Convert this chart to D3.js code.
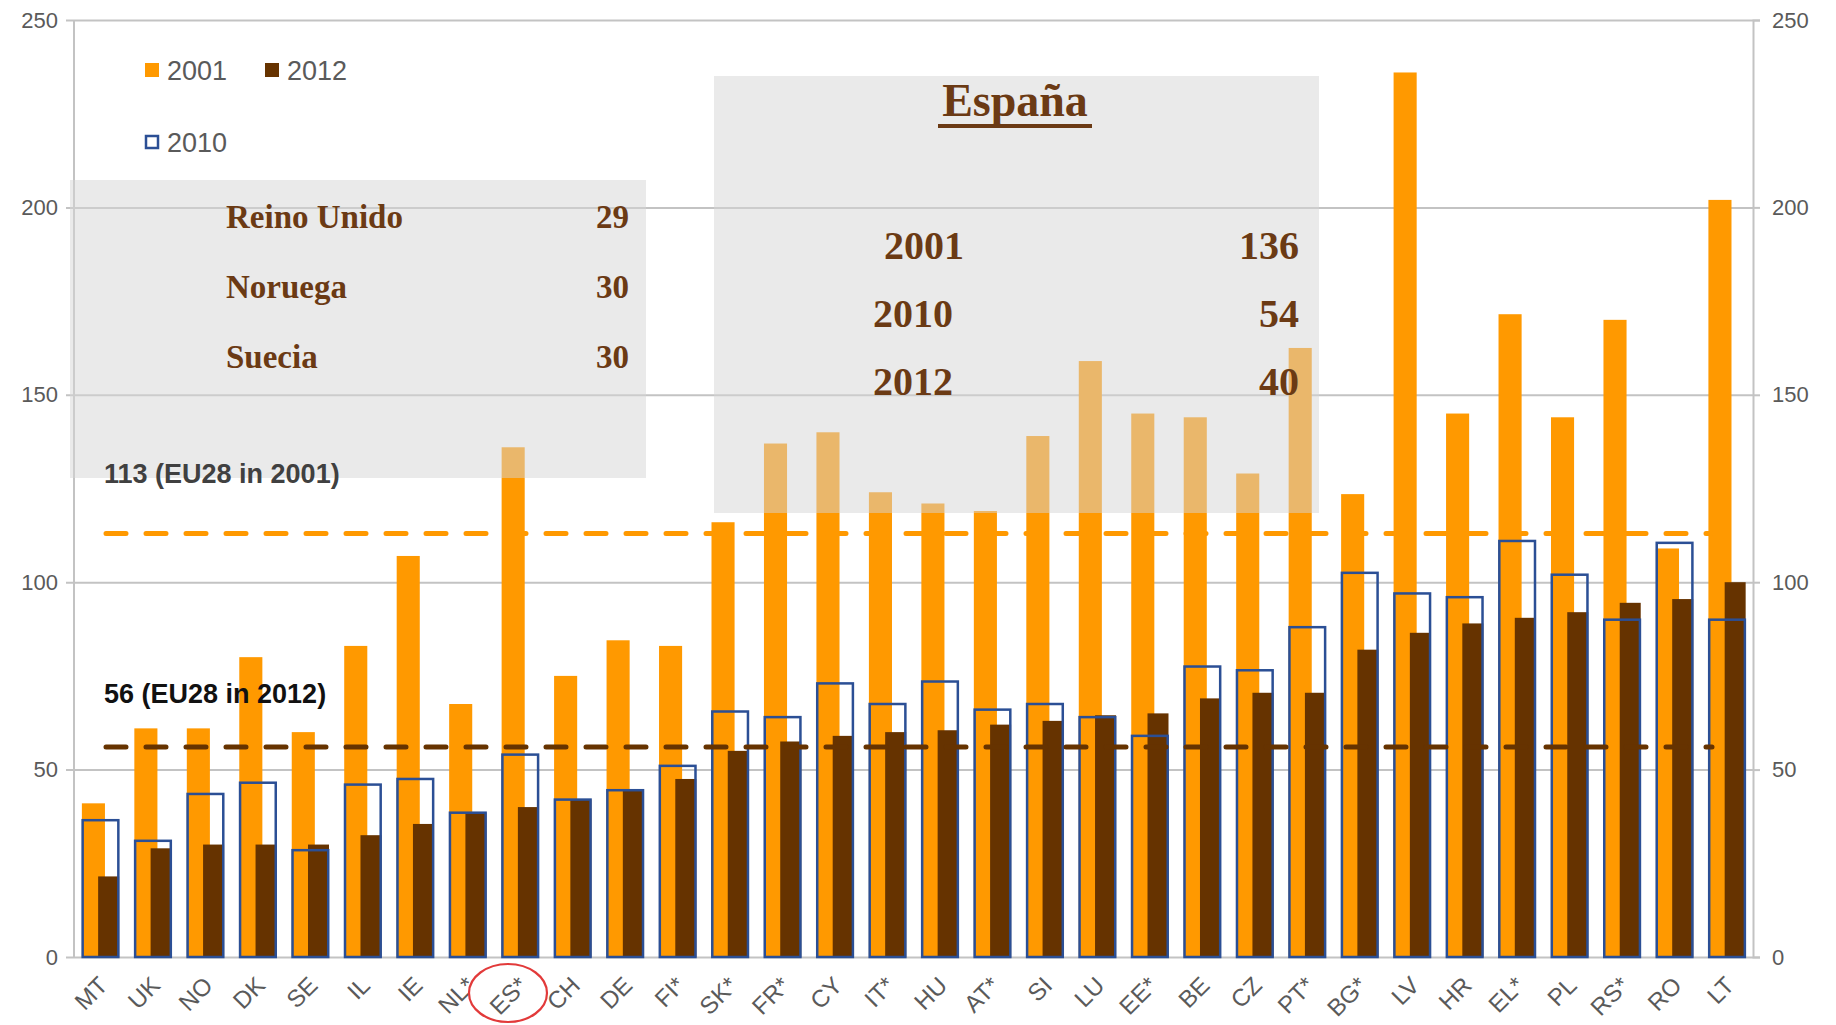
<!DOCTYPE html>
<html>
<head>
<meta charset="utf-8">
<script src="https://cdn.jsdelivr.net/npm/d3@7"></script>
<style>
    html, body { margin: 0; padding: 0; background: #fff; }
    #chart-container { width: 1836px; height: 1025px; }
</style>
</head>
<body>
<div id="chart-container"></div>
<script>
var countries = ['MT','UK','NO','DK','SE','IL','IE','NL*','ES*','CH','DE','FI*','SK*','FR*','CY','IT*',
                 'HU','AT*','SI','LU','EE*','BE','CZ','PT*','BG*','LV','HR','EL*','PL','RS*','RO','LT'];

var values2001 = [41, 61, 61, 80, 60, 83, 107, 67.5, 136, 75, 84.5, 83, 116, 137, 140, 124,
                  121, 119, 139, 159, 145, 144, 129, 162.5, 123.5, 236, 145, 171.5, 144, 170, 109, 202];
var values2010 = [36.5, 31, 43.5, 46.5, 28.5, 46, 47.5, 38.5, 54, 42, 44.5, 51, 65.5, 64, 73, 67.5,
                  73.5, 66, 67.5, 64, 59, 77.5, 76.5, 88, 102.5, 97, 96, 111, 102, 90, 110.5, 90];
var values2012 = [21.5, 29, 30, 30, 30, 32.5, 35.5, 38.5, 40, 42, 44.5, 47.5, 55, 57.5, 59, 60,
                  60.5, 62, 63, 64.5, 65, 69, 70.5, 70.5, 82, 86.5, 89, 90.5, 92, 94.5, 95.5, 100];

var yTicks = [0, 50, 100, 150, 200, 250];
var eu28 = [
    { value: 113, label: '113 (EU28 in 2001)', color: '#ff9900', text: '#404040', shift: -60 },
    { value: 56,  label: '56 (EU28 in 2012)',  color: '#663300', text: '#111111', shift: -54 }
];
var lowest = [['Reino Unido', 29], ['Noruega', 30], ['Suecia', 30]];
var spain = [['2001', 136], ['2010', 54], ['2012', 40]];

(function(){
    var w = 1836, h = 1025,
        left = 74, right = 1753, top = 20, bottom = 957,
        orange = '#ff9900', brown = '#663300', blue = '#2b4f95',
        grid = '#c3c3c3', tickText = '#5a5a5a', boxText = '#6b3a14';

    var svg = d3.select('#chart-container')
        .append('svg')
        .attr('width', w)
        .attr('height', h)
        .style('font-family', 'Liberation Sans, Arial, sans-serif');

    var x = d3.scaleBand().domain(countries).range([left, right]).padding(0);
    var y = d3.scaleLinear().domain([0, 250]).range([bottom, top]);
    var bw = x.bandwidth();

    var rows = countries.map(function(c, i){
        return { name: c, v2001: values2001[i], v2010: values2010[i], v2012: values2012[i] };
    });

    // gridlines + axes
    var leftAxis = d3.axisLeft(y).tickValues(yTicks).tickSize(right - left + 8).tickPadding(8);
    svg.append('g')
        .attr('transform', 'translate(' + right + ',0)')
        .call(leftAxis)
        .call(function(g){
            g.select('.domain').remove();
            g.selectAll('.tick line').attr('stroke', grid).attr('stroke-width', 2);
            g.selectAll('.tick text').attr('fill', tickText).style('font-size', '22px');
        });
    var rightAxis = d3.axisRight(y).tickValues(yTicks).tickSize(7).tickPadding(12);
    svg.append('g')
        .attr('transform', 'translate(' + right + ',0)')
        .call(rightAxis)
        .call(function(g){
            g.select('.domain').attr('stroke', grid).attr('stroke-width', 2);
            g.selectAll('.tick line').attr('stroke', grid).attr('stroke-width', 2);
            g.selectAll('.tick text').attr('fill', tickText).style('font-size', '22px');
        });
    svg.append('line')
        .attr('x1', left).attr('x2', left)
        .attr('y1', top).attr('y2', bottom)
        .attr('stroke', grid).attr('stroke-width', 2);

    // bars
    svg.append('g').selectAll('rect')
        .data(rows)
        .enter()
        .append('rect')
        .attr('x', function(d){ return x(d.name) + bw * 0.15; })
        .attr('width', bw * 0.44)
        .attr('y', function(d){ return y(d.v2001); })
        .attr('height', function(d){ return bottom - y(d.v2001); })
        .attr('fill', orange);

    svg.append('g').selectAll('rect')
        .data(rows)
        .enter()
        .append('rect')
        .attr('x', function(d){ return x(d.name) + bw * 0.46; })
        .attr('width', bw * 0.40)
        .attr('y', function(d){ return y(d.v2012); })
        .attr('height', function(d){ return bottom - y(d.v2012); })
        .attr('fill', brown);

    svg.append('g').selectAll('rect')
        .data(rows)
        .enter()
        .append('rect')
        .attr('x', function(d){ return x(d.name) + bw * 0.165; })
        .attr('width', bw * 0.68)
        .attr('y', function(d){ return y(d.v2010); })
        .attr('height', function(d){ return bottom - y(d.v2010); })
        .attr('fill', 'none')
        .attr('stroke', blue)
        .attr('stroke-width', 2.5);

    // EU28 reference lines
    svg.append('g').selectAll('line')
        .data(eu28)
        .enter()
        .append('line')
        .attr('x1', 106)
        .attr('x2', 1712)
        .attr('y1', function(d){ return y(d.value); })
        .attr('y2', function(d){ return y(d.value); })
        .attr('stroke', function(d){ return d.color; })
        .attr('stroke-width', 5)
        .attr('stroke-linecap', 'round')
        .attr('stroke-dasharray', '20 20');

    // grey boxes
    svg.append('rect')
        .attr('x', 70).attr('y', 180).attr('width', 576).attr('height', 298)
        .attr('fill', '#d6d6d6').attr('fill-opacity', 0.5);
    svg.append('rect')
        .attr('x', 714).attr('y', 76).attr('width', 605).attr('height', 437)
        .attr('fill', '#d6d6d6').attr('fill-opacity', 0.5);

    var serif = 'Liberation Serif, Times New Roman, serif';
    svg.append('g').selectAll('text')
        .data(lowest)
        .enter()
        .append('text')
        .attr('x', 226)
        .attr('y', function(d, i){ return 228 + i * 70; })
        .attr('fill', boxText)
        .style('font-family', serif)
        .style('font-size', '33px')
        .style('font-weight', 'bold')
        .text(function(d){ return d[0]; });
    svg.append('g').selectAll('text')
        .data(lowest)
        .enter()
        .append('text')
        .attr('x', 629)
        .attr('y', function(d, i){ return 228 + i * 70; })
        .attr('text-anchor', 'end')
        .attr('fill', boxText)
        .style('font-family', serif)
        .style('font-size', '33px')
        .style('font-weight', 'bold')
        .text(function(d){ return d[1]; });

    svg.append('text')
        .attr('x', 1015).attr('y', 116)
        .attr('text-anchor', 'middle')
        .attr('fill', boxText)
        .style('font-family', serif)
        .style('font-size', '46px')
        .style('font-weight', 'bold')
        .text('España');
    svg.append('line')
        .attr('x1', 938).attr('x2', 1092)
        .attr('y1', 126).attr('y2', 126)
        .attr('stroke', boxText).attr('stroke-width', 4);

    svg.append('g').selectAll('text')
        .data(spain)
        .enter()
        .append('text')
        .attr('x', function(d, i){ return i === 0 ? 884 : 873; })
        .attr('y', function(d, i){ return 259 + i * 68; })
        .attr('fill', boxText)
        .style('font-family', serif)
        .style('font-size', '40px')
        .style('font-weight', 'bold')
        .text(function(d){ return d[0]; });
    svg.append('g').selectAll('text')
        .data(spain)
        .enter()
        .append('text')
        .attr('x', 1299)
        .attr('y', function(d, i){ return 259 + i * 68; })
        .attr('text-anchor', 'end')
        .attr('fill', boxText)
        .style('font-family', serif)
        .style('font-size', '40px')
        .style('font-weight', 'bold')
        .text(function(d){ return d[1]; });

    // EU28 labels
    svg.append('g').selectAll('text')
        .data(eu28)
        .enter()
        .append('text')
        .attr('x', 104)
        .attr('y', function(d){ return y(d.value) + d.shift; })
        .attr('dy', '0.35em')
        .attr('fill', function(d){ return d.text; })
        .style('font-size', '27px')
        .style('font-weight', 'bold')
        .text(function(d){ return d.label; });

    // legend
    var legend = [
        { label: '2001', x: 145, y: 70, fill: orange },
        { label: '2012', x: 265, y: 70, fill: brown },
        { label: '2010', x: 145, y: 142, fill: 'none' }
    ];
    var lg = svg.append('g').selectAll('g')
        .data(legend)
        .enter()
        .append('g')
        .attr('transform', function(d){ return 'translate(' + d.x + ',' + d.y + ')'; });
    lg.append('rect')
        .attr('x', function(d){ return d.fill === 'none' ? 1 : 0; })
        .attr('y', function(d){ return d.fill === 'none' ? -6 : -7; })
        .attr('width', function(d){ return d.fill === 'none' ? 12 : 14; })
        .attr('height', function(d){ return d.fill === 'none' ? 12 : 14; })
        .attr('fill', function(d){ return d.fill === 'none' ? '#fff' : d.fill; })
        .attr('stroke', function(d){ return d.fill === 'none' ? blue : 'none'; })
        .attr('stroke-width', 2.5);
    lg.append('text')
        .attr('x', 22)
        .attr('dy', '0.36em')
        .attr('fill', tickText)
        .style('font-size', '27px')
        .text(function(d){ return d.label; });

    // category labels
    svg.append('g').selectAll('text')
        .data(countries)
        .enter()
        .append('text')
        .attr('transform', function(d){
            return 'translate(' + (x(d) + bw / 2 + 3) + ',' + 981 + ') rotate(-45)';
        })
        .attr('text-anchor', 'end')
        .attr('dy', '0.35em')
        .attr('fill', tickText)
        .style('font-size', '24px')
        .text(function(d){ return d; });

    // highlight Spain
    svg.append('ellipse')
        .attr('cx', x('ES*') + bw / 2 - 12)
        .attr('cy', 993)
        .attr('rx', 39)
        .attr('ry', 29)
        .attr('fill', 'none')
        .attr('stroke', '#e23a3a')
        .attr('stroke-width', 2.2);
})();
</script>
</body>
</html>
